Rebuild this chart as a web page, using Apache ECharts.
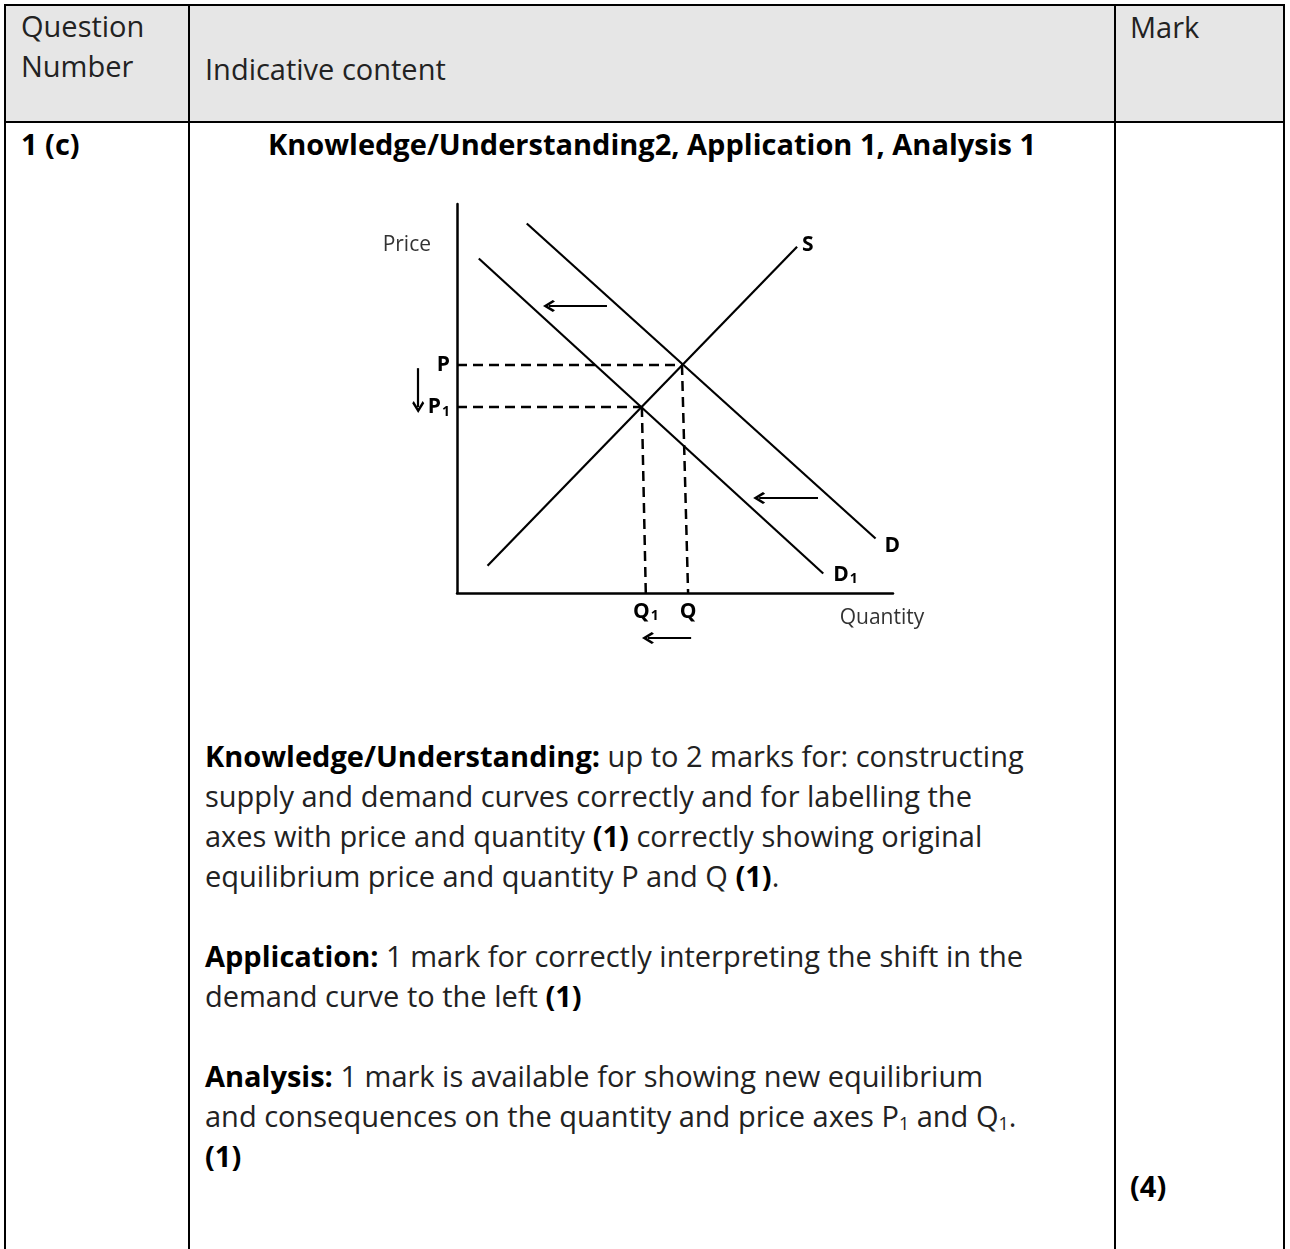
<!DOCTYPE html>
<html>
<head>
<meta charset="utf-8">
<script src="https://cdn.jsdelivr.net/npm/echarts@6/dist/echarts.min.js"></script>
<style>
  html, body { margin: 0; padding: 0; background: #fff; }
  body {
    width: 1290px; height: 1249px; position: relative; overflow: hidden;
    font-family: 'Open Sans', sans-serif; font-size: 29px; color: #222;
  }
  .rule { position: absolute; background: #000; }
  .head { position: absolute; left: 6px; top: 6px; width: 1277px; height: 115px; background: #e6e6e6; }
  .t { position: absolute; line-height: 40px; white-space: nowrap; }
  b { color: #000; }
  sub { font-size: 18px; vertical-align: -3px; line-height: 0; }
  #chart { position: absolute; left: 360px; top: 190px; width: 600px; height: 470px; }
</style>
</head>
<body>
<div class="head"></div>
<div class="rule" style="left:4px;top:4px;width:1281px;height:2px"></div>
<div class="rule" style="left:4px;top:121px;width:1281px;height:2px"></div>
<div class="rule" style="left:4px;top:4px;width:2px;height:1245px"></div>
<div class="rule" style="left:188px;top:4px;width:2px;height:1245px"></div>
<div class="rule" style="left:1114px;top:4px;width:2px;height:1245px"></div>
<div class="rule" style="left:1283px;top:4px;width:2px;height:1245px"></div>

<div class="t" style="left:21px;top:6px">Question<br>Number</div>
<div class="t" style="left:205px;top:49px">Indicative content</div>
<div class="t" style="left:1130px;top:7px">Mark</div>
<div class="t" style="left:21px;top:124px"><b>1 (c)</b></div>
<div class="t" style="left:190px;width:924px;text-align:center;top:124px"><b>Knowledge/Understanding2, Application 1, Analysis 1</b></div>

<div id="chart"></div>

<div class="t" style="left:205px;top:736px"><b>Knowledge/Understanding:</b> up to 2 marks for: constructing<br>supply and demand curves correctly and for labelling the<br>axes with price and quantity <b>(1)</b> correctly showing original<br>equilibrium price and quantity P and Q <b>(1)</b>.<br><br><b>Application:</b> 1 mark for correctly interpreting the shift in the<br>demand curve to the left <b>(1)</b><br><br><b>Analysis:</b> 1 mark is available for showing new equilibrium<br>and consequences on the quantity and price axes P<sub>1</sub> and Q<sub>1</sub>.<br><b>(1)</b></div>
<div class="t" style="left:1130px;top:1166px"><b>(4)</b></div>

<script>
// diagram units: 0..100 on both axes
const demandD = [[16, 95], [96, 14]];
const demandD1 = [[5, 86], [84, 5]];
const supplyS = [[7, 7], [78, 89]];
const equilibrium = [51.6, 58.6];
const equilibrium1 = [42.4, 47.8];
const quantityTicks = [43.3, 53.0];
const quantityNames = ['Q1', 'Q'];
const priceTicks = [47.8, 58.6];
const priceNames = ['P1', 'P'];
const shiftArrows = [
  [[34.4, 73.8], [21.1, 73.8]],
  [[82.8, 24.4], [69.3, 24.4]],
  [[53.7, -11.6], [43.8, -11.6]],
  [[-8.9, 57.8], [-8.9, 47.8]]
];

const black = '#000';
// open arrow head, tip pointing up (the lines series turns it along the shaft)
const chevron = 'path://M50,0L100,50L87,61L50,25L13,61L0,50Z';

const rich = {
  b: { fontFamily: 'Open Sans', fontWeight: 'bold', fontSize: 21, color: black, lineHeight: 24 },
  s: { fontFamily: 'Open Sans', fontWeight: 'bold', fontSize: 14, color: black, lineHeight: 14, padding: [9, 0, 0, 1] }
};

const tickLabel = (name) => name.length > 1
  ? `{b|${name[0]}}{s|${name.slice(1)}}`
  : `{b|${name}}`;

const curve = (data, name, distance, offset) => ({
  type: 'line',
  data,
  symbol: 'none',
  silent: true,
  lineStyle: { color: black, width: 2.2 },
  endLabel: { show: true, formatter: tickLabel(name), rich, distance, offset }
});

const guide = (data) => ({
  type: 'line',
  data,
  symbol: 'none',
  silent: true,
  lineStyle: { color: black, width: 2.5, type: [10, 6] }
});

const chart = echarts.init(document.getElementById('chart'));
chart.setOption({
  animation: false,
  textStyle: { fontFamily: 'Open Sans' },
  grid: { left: 97, top: 14, width: 436, height: 389 },
  xAxis: {
    type: 'value',
    min: 0,
    max: 100,
    axisLine: { show: true, onZero: false, lineStyle: { color: black, width: 2.5 } },
    axisTick: { show: false },
    splitLine: { show: false },
    axisLabel: {
      customValues: quantityTicks,
      formatter: (v) => tickLabel(quantityNames[quantityTicks.indexOf(v)]),
      rich,
      margin: 7
    },
    name: 'Quantity',
    nameLocation: 'end',
    nameGap: -11,
    nameTextStyle: { fontSize: 21, color: '#333', align: 'center', verticalAlign: 'top', padding: [15, 0, 0, 0] }
  },
  yAxis: {
    type: 'value',
    min: 0,
    max: 100,
    axisLine: { show: true, onZero: false, lineStyle: { color: black, width: 2.5 } },
    axisTick: { show: false },
    splitLine: { show: false },
    axisLabel: {
      customValues: priceTicks,
      formatter: (v) => tickLabel(priceNames[priceTicks.indexOf(v)]),
      rich,
      margin: 7
    },
    name: 'Price',
    nameLocation: 'end',
    nameGap: -41,
    nameTextStyle: { fontSize: 21, color: '#333', align: 'right', verticalAlign: 'middle', padding: [0, 26, 0, 0] }
  },
  series: [
    curve(demandD, 'D', 9, [0, 7]),
    curve(demandD1, 'D1', 10, [0, 1]),
    curve(supplyS, 'S', 5, [0, -2]),
    guide([[0, equilibrium[1]], equilibrium]),
    guide([[0, equilibrium1[1]], equilibrium1]),
    guide([equilibrium, [quantityTicks[1], 0]]),
    guide([equilibrium1, [quantityTicks[0], 0]]),
    {
      type: 'lines',
      coordinateSystem: 'cartesian2d',
      clip: false,
      silent: true,
      symbol: ['none', chevron],
      symbolSize: [16, 12],
      lineStyle: { color: black, width: 2.2, opacity: 1 },
      data: shiftArrows.map((coords) => ({ coords }))
    }
  ]
});
</script>
</body>
</html>
